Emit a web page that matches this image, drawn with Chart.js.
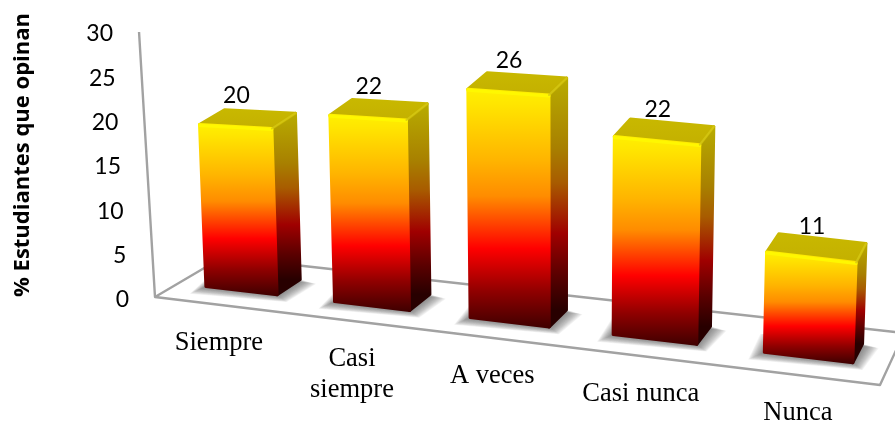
<!DOCTYPE html>
<html><head><meta charset="utf-8">
<style>html,body{margin:0;padding:0;background:#fff}canvas{display:block}</style>
<script src="https://cdn.jsdelivr.net/npm/chart.js@4"></script></head>
<body><canvas id="c" width="895" height="424"></canvas>
<script>
const categories = ["Siempre", ["Casi","siempre"], "A veces", "Casi nunca", "Nunca"];
const values = [20, 22, 26, 22, 11];
const yTicks = [0, 5, 10, 15, 20, 25, 30];
const axisTitle = "% Estudiantes que opinan";

// Camera: where the unit floor square lands in the picture
const floorQuad = [[155,297],[880,385],[904,333],[223,257]]; // front-left, front-right, back-right, back-left
const axisLean = -0.06, barLean = 1/9000, leanCentre = 560;
const depthFront = 0.33, depthBack = 0.70;

function homography(q){
  const [[x0,y0],[x1,y1],[x2,y2],[x3,y3]] = q;
  const dx1=x1-x2, dx2=x3-x2, sx=x0-x1+x2-x3, dy1=y1-y2, dy2=y3-y2, sy=y0-y1+y2-y3;
  const den=dx1*dy2-dx2*dy1, g=(sx*dy2-dx2*sy)/den, h=(dx1*sy-sx*dy1)/den;
  const a=x1-x0+g*x1, b=x3-x0+h*x3, d=y1-y0+g*y1, e=y3-y0+h*y3;
  return (s,t)=>{const w=g*s+h*t+1;return [(a*s+b*t+x0)/w,(d*s+e*t+y0)/w];};
}
const floorAt = homography(floorQuad);

function project(y, s, t, v){
  const [fx] = floorAt(s, 0);
  const [x0, y0] = floorAt(s, t);
  const r = (810-fx)/570;
  const unit = 9.12 - 0.85*r*r;
  const k = unit / ((y.getPixelForValue(0)-y.getPixelForValue(30))/30);
  const rise = (y.getPixelForValue(0)-y.getPixelForValue(v))*k;
  return [x0 + (x0-leanCentre)*barLean*rise, y0 - rise];
}
function poly(ctx, pts){ctx.beginPath();pts.forEach((p,i)=>i?ctx.lineTo(p[0],p[1]):ctx.moveTo(p[0],p[1]));ctx.closePath();}
function ramp(ctx, y0, y1, stops){
  const g=ctx.createLinearGradient(0,y0,0,y1);stops.forEach(([o,c])=>g.addColorStop(o,c));return g;
}
const frontStops=[[0,'#FFF000'],[.06,'#FFE600'],[.3,'#FFB400'],[.45,'#FF8C00'],[.67,'#FF0000'],[.85,'#900000'],[1,'#420000']];
const sideStops=[[0,'#B8AC00'],[.3,'#A88000'],[.45,'#A85C00'],[.67,'#A00000'],[.85,'#5A0000'],[1,'#280000']];

const box3d = {
  id:'box3d',
  beforeDraw(chart){
    const {x,y}=chart.scales, area=chart.chartArea;
    y.getLabelItems(area).forEach((it,i)=>{
      const py=y.getPixelForTick(i);
      it.options.translation=[floorQuad[0][0]+axisLean*(y.bottom-py)-26,py+2];
    });
    x.getLabelItems(area).forEach((it,i)=>{
      const s=(x.getPixelForTick(i)-x.left)/(x.right-x.left);
      const [fx,fy]=floorAt(s,0);
      it.options.translation=[fx,fy+23];
    });
    if(!y._shifted){
      const d=y.drawTitle.bind(y);
      y.drawTitle=(a)=>{chart.ctx.save();chart.ctx.translate(0,-10);d(a);chart.ctx.restore();};
      y._shifted=true;
    }
  },
  beforeDatasetDraw(chart,args){
    const ctx=chart.ctx,{x,y}=chart.scales,meta=args.meta;
    const W=x.right-x.left;
    // walls & floor
    ctx.save();
    ctx.strokeStyle='#A2A2A2';ctx.lineWidth=2.4;ctx.lineJoin='round';
    const q=floorQuad,top=y.getPixelForValue(30),bot=y.getPixelForValue(0);
    ctx.beginPath();
    ctx.moveTo(q[0][0]+axisLean*(bot-top),top);ctx.lineTo(q[0][0],q[0][1]);
    ctx.lineTo(q[1][0],q[1][1]);ctx.lineTo(q[2][0],q[2][1]);ctx.lineTo(q[3][0],q[3][1]);ctx.lineTo(q[0][0],q[0][1]);
    ctx.stroke();
    ctx.restore();
    meta.data.forEach((el,i)=>{
      const v=values[i],c=(el.x-x.left)/W,hw=el.width/W/2;
      const sL=c-hw,sR=c+hw,t0=depthFront,t1=depthBack;
      const P=(s,t,val)=>project(y,s,t,val);
      const fbl=P(sL,t0,0),fbr=P(sR,t0,0),bbr=P(sR,t1,0),bbl=P(sL,t1,0);
      const ftl=P(sL,t0,v),ftr=P(sR,t0,v),btr=P(sR,t1,v),btl=P(sL,t1,v);
      // soft floor shadow built from stacked translucent footprints
      ctx.save();
      ctx.fillStyle='rgba(80,80,80,.07)';
      for(let e=16;e>=0;e-=1){
        const ey=e*0.45;
        poly(ctx,[[fbl[0]-e,fbl[1]+ey],[fbr[0]+e*.6,fbr[1]+ey],[bbr[0]+e,bbr[1]+ey*.6],[bbl[0]-e,bbl[1]]]);
        ctx.fill();
      }
      ctx.restore();
      ctx.save();ctx.lineJoin='round';ctx.lineWidth=3;
      const faces=[
        [[fbr,bbr,btr,ftr],ramp(ctx,btr[1],bbr[1],sideStops)],
        [[ftl,ftr,btr,btl],ramp(ctx,btl[1],ftr[1],[[0,'#C8B800'],[1,'#C4B000']])],
        [[fbl,fbr,ftr,ftl],ramp(ctx,ftl[1],fbr[1],frontStops)]
      ];
      faces.forEach(([pts,fill])=>{ctx.fillStyle=fill;ctx.strokeStyle=fill;poly(ctx,pts);ctx.fill();ctx.stroke();});
      ctx.lineCap='round';
      ctx.strokeStyle='rgba(255,248,0,.95)';ctx.lineWidth=3;
      ctx.beginPath();ctx.moveTo(ftl[0],ftl[1]+1);ctx.lineTo(ftr[0],ftr[1]+1);ctx.stroke();
      ctx.strokeStyle='rgba(214,200,20,.8)';ctx.lineWidth=2;
      ctx.beginPath();ctx.moveTo(ftr[0],ftr[1]);ctx.lineTo(btr[0],btr[1]);ctx.stroke();
      ctx.restore();
    });
    return false;
  },
  afterDatasetsDraw(chart){
    const ctx=chart.ctx,{x,y}=chart.scales,meta=chart.getDatasetMeta(0),W=x.right-x.left;
    ctx.save();ctx.font='23px Lato';ctx.fillStyle='#000';ctx.textAlign='center';ctx.textBaseline='middle';
    meta.data.forEach((el,i)=>{
      const p=project(y,(el.x-x.left)/W,depthFront,values[i]);
      ctx.fillText(String(values[i]),p[0]+1,p[1]-31);
    });
    ctx.restore();
  }
};

new Chart(document.getElementById('c'),{
  type:'bar',
  data:{labels:categories,datasets:[{data:values,barPercentage:0.56,categoryPercentage:1,backgroundColor:'#FF8C00'}]},
  options:{
    responsive:false,animation:false,
    layout:{autoPadding:false,padding:{top:32,left:0,right:0,bottom:0}},
    plugins:{legend:{display:false},tooltip:{enabled:false}},
    scales:{
      x:{grid:{display:false},border:{display:false},
        afterFit(s){s.height=126;},
        ticks:{autoSkip:false,maxRotation:0,minRotation:0,color:'#000',
          font:{family:'"Liberation Serif"',size:26.5,lineHeight:1.17}}},
      y:{min:0,max:30,grid:{display:false},border:{display:false},
        afterFit(s){s.width=155;},
        afterBuildTicks(s){s.ticks=yTicks.map(v=>({value:v}));},
        title:{display:true,text:axisTitle,color:'#000',padding:{top:12,bottom:0},
          font:{family:'"Open Sans"',size:22,weight:'bold',lineHeight:1}},
        ticks:{color:'#000',font:{family:'Lato',size:23}}}
    }
  },
  plugins:[box3d]
});
</script></body></html>
